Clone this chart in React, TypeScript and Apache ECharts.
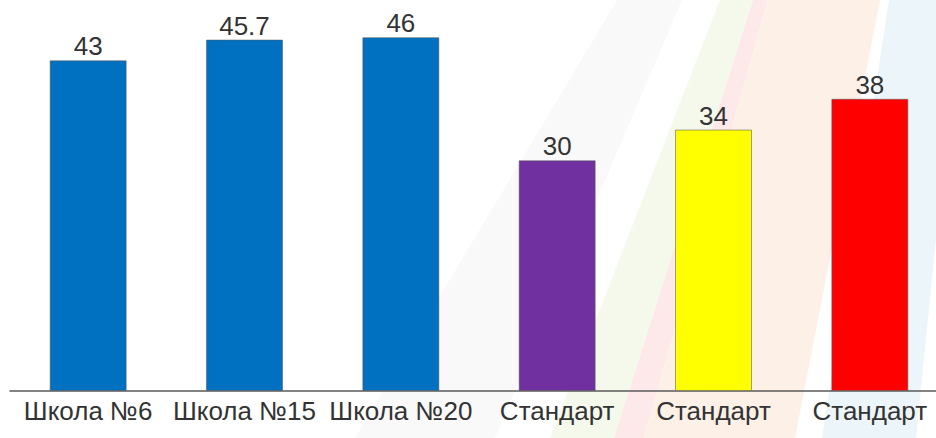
import React, { useEffect, useRef } from "react";
import * as echarts from "echarts";

const categories = ["Школа №6", "Школа №15", "Школа №20", "Стандарт", "Стандарт", "Стандарт"];
const values = [43, 45.7, 46, 30, 34, 38];
const barColors = ["#0070C0", "#0070C0", "#0070C0", "#7030A0", "#FFFF00", "#FF0000"];

const stripes: { pts: number[][]; fill: string }[] = [
  { pts: [[617, 0], [682, 0], [495, 438], [355, 438]], fill: "#f9f9f9" },
  { pts: [[720, 0], [753, 0], [614, 438], [550, 438]], fill: "#f4f9eb" },
  { pts: [[753, 0], [768, 0], [644, 438], [614, 438]], fill: "#fde9e9" },
  { pts: [[768, 0], [880, 0], [795, 438], [644, 438]], fill: "#fdf0e7" },
  { pts: [[889, 0], [960, 0], [916, 438], [822, 438]], fill: "#ecf5fa" },
];

export default function App() {
  const ref = useRef<HTMLDivElement>(null);
  useEffect(() => {
    if (!ref.current) return;
    const chart = echarts.init(ref.current, null, { renderer: "svg" });
    chart.setOption({
      animation: false,
      backgroundColor: "#ffffff",
      graphic: stripes.map((s) => ({
        type: "polygon",
        z: -10,
        silent: true,
        shape: { points: s.pts },
        style: { fill: s.fill },
      })),
      grid: { left: 10, top: 6.5, width: 938, height: 384.5, containLabel: false },
      xAxis: {
        type: "category",
        data: categories,
        axisLine: { show: true, lineStyle: { color: "#5a5a5a", width: 1.5 } },
        axisTick: { show: false },
        axisLabel: {
          interval: 0,
          color: "#333333",
          fontSize: 26,
          fontFamily: "Liberation Sans, Arial, sans-serif",
          margin: 7,
        },
      },
      yAxis: {
        type: "value",
        min: 0,
        max: 50,
        show: false,
        splitLine: { show: false },
      },
      series: [
        {
          type: "bar",
          barWidth: 77,
          data: values.map((v, i) => ({
            value: v,
            itemStyle: {
              color: barColors[i],
              borderColor: "rgba(90,90,90,0.55)",
              borderWidth: 1,
            },
          })),
          label: {
            show: true,
            position: "top",
            distance: 1,
            color: "#333333",
            fontSize: 26,
            fontFamily: "Liberation Sans, Arial, sans-serif",
          },
        },
      ],
    });
    return () => chart.dispose();
  }, []);
  return (
    <div style={{ position: "fixed", left: 0, top: 0, width: 936, height: 438, overflow: "hidden" }}>
      <div ref={ref} style={{ width: 960, height: 438 }} />
    </div>
  );
}
